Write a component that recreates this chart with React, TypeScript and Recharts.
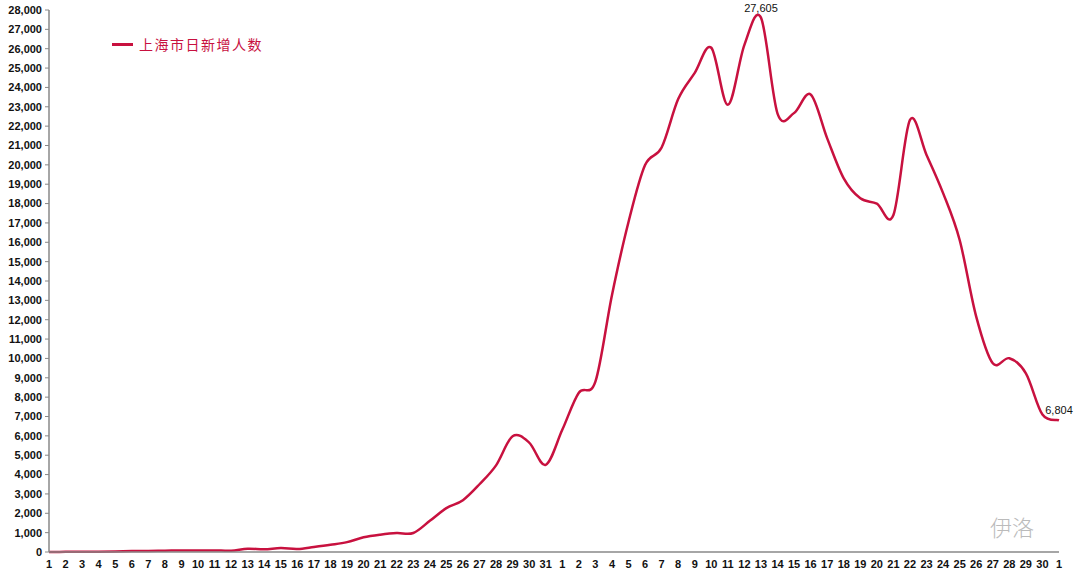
import React from "react";
import { LineChart, Line, XAxis, YAxis } from "recharts";

const dayLabels: string[] = [
  ...Array.from({ length: 31 }, (_, i) => String(i + 1)),
  ...Array.from({ length: 30 }, (_, i) => String(i + 1)),
  "1",
];

const marchValues = [
  2, 8, 16, 19, 28, 48, 54, 65, 80, 75, 83, 65, 169, 139, 202, 158, 260, 374,
  509, 758, 896, 981, 983, 1609, 2269, 2676, 3500, 4477, 5982, 5653, 4502,
];
const aprilValues = [
  6311, 8226, 8800, 13270, 17050, 19990, 20900, 23400, 24750, 26050, 23100,
  26200, 27605, 22650, 22680, 23640, 21370, 19300, 18270, 18000, 17410, 22320,
  20510, 18540, 16120, 12160, 9750, 10010, 9230, 7100,
];
const mayValues = [6804];

const seriesName = "上海市日新增人数";
const labelledIndexes = [43, 61];
const yTicks = Array.from({ length: 29 }, (_, i) => i * 1000);

const allValues = [...marchValues, ...aprilValues, ...mayValues];
const data = allValues.map((v, i) => ({ idx: i, day: dayLabels[i], value: v }));

const LINE_COLOR = "#C8113F";

const fmt = (v: number) => v.toLocaleString("en-US");

function catmullRom(context: any) {
  let pts: [number, number][] = [];
  return {
    areaStart() {},
    areaEnd() {},
    lineStart() {
      pts = [];
    },
    point(x: number, y: number) {
      pts.push([+x, +y]);
    },
    lineEnd() {
      if (!pts.length) return;
      context.moveTo(pts[0][0], pts[0][1]);
      for (let i = 0; i < pts.length - 1; i++) {
        const p0 = pts[i - 1] || pts[i];
        const p1 = pts[i];
        const p2 = pts[i + 1];
        const p3 = pts[i + 2] || p2;
        const c1x = p1[0] + (p2[0] - p0[0]) / 6;
        const c1y = p1[1] + (p2[1] - p0[1]) / 6;
        const c2x = p2[0] - (p3[0] - p1[0]) / 6;
        const c2y = p2[1] - (p3[1] - p1[1]) / 6;
        context.bezierCurveTo(c1x, c1y, c2x, c2y, p2[0], p2[1]);
      }
    },
  };
}

const renderLabel = (props: any) => {
  const { x, y, value, index } = props;
  if (!labelledIndexes.includes(index)) return null;
  return (
    <text
      x={x}
      y={y - 6}
      textAnchor="middle"
      fontSize={11}
      fontFamily="'Liberation Sans', Arial, sans-serif"
      fill="#111"
    >
      {fmt(value)}
    </text>
  );
};

const tickStyle = {
  fontSize: 11,
  fontWeight: 700,
  fill: "#111",
  fontFamily: "'Liberation Sans', Arial, sans-serif",
};

export default function App() {
  return (
    <div
      style={{
        position: "absolute",
        left: 0,
        top: 0,
        width: 1080,
        height: 575,
        background: "#fff",
      }}
    >
      <LineChart
        width={1080}
        height={575}
        data={data}
        margin={{ top: 10, right: 21, bottom: 0, left: 0 }}
      >
        <XAxis
          dataKey="idx"
          type="category"
          interval={0}
          tickFormatter={(_v: any, i: number) => dayLabels[i]}
          tickLine={false}
          axisLine={{ stroke: "#888", strokeWidth: 1.5 }}
          tick={tickStyle}
          height={23}
          tickMargin={2}
        />
        <YAxis
          domain={[0, 28000]}
          ticks={yTicks}
          interval={0}
          tickFormatter={fmt}
          width={49}
          tickSize={4}
          tickMargin={3}
          tickLine={{ stroke: "#888" }}
          axisLine={{ stroke: "#888", strokeWidth: 1.5 }}
          tick={tickStyle}
        />
        <Line
          dataKey="value"
          name={seriesName}
          type={catmullRom as any}
          stroke={LINE_COLOR}
          strokeWidth={2.5}
          dot={false}
          activeDot={false}
          isAnimationActive={false}
          label={renderLabel}
        />
      </LineChart>
      <div
        style={{
          position: "absolute",
          left: 112,
          top: 34,
          display: "flex",
          alignItems: "center",
        }}
      >
        <div style={{ width: 21, height: 3, background: LINE_COLOR, marginRight: 6 }} />
        <span
          style={{
            color: LINE_COLOR,
            fontSize: 14,
            fontFamily: "'Noto Sans CJK SC', sans-serif",
            letterSpacing: 1.5,
          }}
        >
          {seriesName}
        </span>
      </div>
      <div
        style={{
          position: "absolute",
          left: 990,
          top: 510,
          color: "#bbb",
          fontSize: 22,
          fontFamily: "'Noto Sans CJK SC', sans-serif",
          fontWeight: 300,
        }}
      >
        伊洛
      </div>
    </div>
  );
}
